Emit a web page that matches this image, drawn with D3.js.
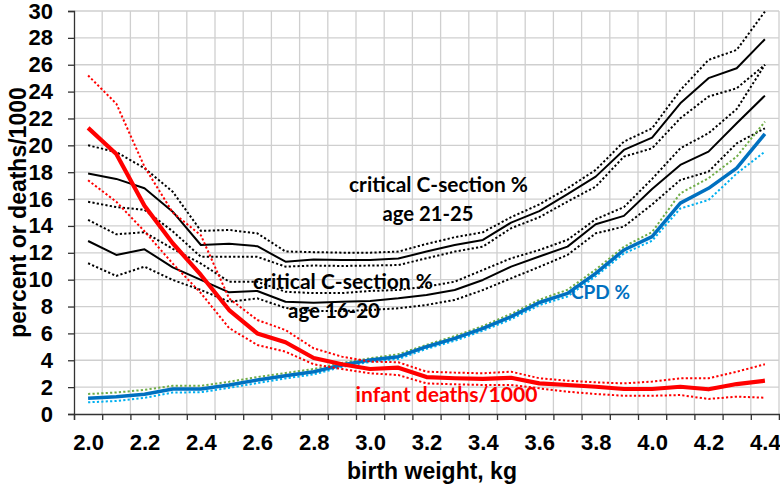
<!DOCTYPE html>
<html><head><meta charset="utf-8">
<script src="https://cdn.jsdelivr.net/npm/d3@7"></script>
<style>body{margin:0;background:#fff}svg{display:block}</style>
</head><body><svg id="c" width="780" height="488"></svg>
<script>
const categories = [2.0,2.1,2.2,2.3,2.4,2.5,2.6,2.7,2.8,2.9,3.0,3.1,3.2,3.3,3.4,3.5,3.6,3.7,3.8,3.9,4.0,4.1,4.2,4.3,4.4];
const xTickLabels = ["2.0","2.2","2.4","2.6","2.8","3.0","3.2","3.4","3.6","3.8","4.0","4.2","4.4"];
const yTicks = [0,2,4,6,8,10,12,14,16,18,20,22,24,26,28,30];

const cs2125 =    [17.9,17.5,16.8,15.06,12.58,12.68,12.49,11.34,11.5,11.47,11.47,11.57,12.09,12.58,12.96,14.25,15.1,16.36,17.67,19.66,20.58,23.13,25.0,25.74,27.9];
const cs2125Hi =  [20.0,19.5,18.3,16.55,13.63,13.7,13.45,12.1,12.05,12.01,12.01,12.09,12.66,13.16,13.53,14.65,15.6,16.8,18.17,20.28,21.27,24.1,26.36,27.1,29.96];
const cs2125Lo =  [15.8,15.4,15.2,13.6,11.7,11.7,11.7,10.97,11.05,11.02,11.05,11.09,11.59,12.09,12.46,13.83,14.65,15.81,16.93,19.16,19.78,22.01,23.63,24.25,25.99];

const cs1620 =    [12.88,11.84,12.26,10.92,9.98,9.06,9.16,8.36,8.29,8.36,8.41,8.61,8.86,9.23,9.98,10.97,11.72,12.46,14.12,14.75,16.75,18.54,19.53,21.64,23.7];
const cs1620Hi =  [14.45,13.38,13.53,12.3,11.2,9.85,9.85,9.1,9.0,9.0,9.16,9.23,9.48,9.85,10.72,11.59,12.21,12.96,14.5,15.4,17.5,19.78,20.9,22.7,26.0];
const cs1620Lo =  [11.22,10.28,10.97,9.98,9.23,8.36,8.61,7.9,7.67,7.67,7.74,7.87,8.12,8.49,9.23,10.1,10.95,11.84,13.45,13.95,15.6,17.42,18.04,20.15,21.27];

const infant =    [21.3,19.36,15.5,12.71,10.35,7.74,6.0,5.34,4.17,3.7,3.35,3.45,2.75,2.66,2.61,2.7,2.28,2.16,2.03,1.86,1.86,2.03,1.84,2.23,2.48];
const infantHi =  [25.2,23.1,18.4,15.0,13.3,8.6,7.0,6.25,4.89,4.27,3.9,3.85,3.15,3.08,3.03,3.15,2.66,2.48,2.36,2.28,2.41,2.66,2.66,3.15,3.7];
const infantLo =  [17.4,15.8,13.6,11.2,9.0,6.4,5.14,4.64,3.7,3.35,3.03,2.9,2.28,2.21,2.16,2.16,1.91,1.66,1.49,1.36,1.36,1.41,1.12,1.29,1.21];

const cpd =       [1.17,1.29,1.47,1.86,1.86,2.16,2.53,2.85,3.15,3.65,4.02,4.27,5.01,5.63,6.38,7.25,8.3,8.98,10.47,12.21,13.2,15.7,16.8,18.3,20.85];
const cpdHi =     [1.49,1.6,1.8,2.1,2.1,2.4,2.75,3.05,3.35,3.8,4.15,4.45,5.15,5.8,6.55,7.45,8.5,9.25,10.75,12.45,13.55,16.43,17.55,19.16,21.76];
const cpdLo =     [0.87,0.97,1.2,1.6,1.62,1.95,2.3,2.65,2.95,3.5,3.88,4.1,4.85,5.45,6.2,7.05,8.1,8.75,10.25,11.95,12.9,15.3,15.93,17.9,19.53];

const svg = d3.select("#c");
const L = 74, R = 779, T = 11, B = 414;
const x = d3.scaleLinear().domain([1.95, 4.45]).range([L, R]);
const y = d3.scaleLinear().domain([0, 30]).range([B, T]);
const boundaries = d3.range(categories.length + 1).map(i => 1.95 + 0.1 * i);
const font = "Liberation Sans, Arial, sans-serif";

// grid
const g = svg.append("g");
g.selectAll("line.v").data(boundaries.slice(1)).join("line")
  .attr("x1", d => x(d)).attr("x2", d => x(d)).attr("y1", T).attr("y2", B)
  .attr("stroke", "#cfcfcf").attr("stroke-width", 1.3);
g.selectAll("line.h").data(yTicks.slice(1)).join("line")
  .attr("x1", L).attr("x2", R).attr("y1", d => y(d)).attr("y2", d => y(d))
  .attr("stroke", "#cfcfcf").attr("stroke-width", 1.3);

// axes
const yAxis = svg.append("g").attr("transform", `translate(${L},0)`)
  .call(d3.axisLeft(y).tickValues(yTicks).tickSize(6).tickPadding(15).tickFormat(d3.format("d")));
yAxis.select(".domain").attr("stroke", "#333").attr("stroke-width", 1.3);
yAxis.selectAll(".tick line").attr("stroke", "#333").attr("stroke-width", 1.3);
yAxis.selectAll("text").attr("font-family", font)
  .attr("font-weight", "bold").attr("font-size", 22).attr("fill", "#000");

const xAxisT = svg.append("g").attr("transform", `translate(0,${B})`)
  .call(d3.axisBottom(x).tickValues(boundaries).tickSize(6).tickFormat(""));
xAxisT.select(".domain").attr("stroke", "#333").attr("stroke-width", 1.3);
xAxisT.selectAll(".tick line").attr("stroke", "#333").attr("stroke-width", 1.3);

const xAxisL = svg.append("g").attr("transform", `translate(0,${B})`)
  .call(d3.axisBottom(x).tickValues(xTickLabels.map(Number)).tickSize(0).tickPadding(20)
    .tickFormat((d,i) => xTickLabels[i]));
xAxisL.select(".domain").remove();
xAxisL.selectAll("text").attr("font-family", font)
  .attr("font-weight", "bold").attr("font-size", 22).attr("fill", "#000");

// titles
svg.append("text").attr("x", 432).attr("y", 479).attr("text-anchor", "middle")
  .attr("font-family", font).attr("font-weight", "bold")
  .attr("font-size", 23).text("birth weight, kg");
svg.append("text").attr("transform", "translate(26,212.5) rotate(-90)").attr("text-anchor", "middle")
  .attr("font-family", font).attr("font-weight", "bold")
  .attr("font-size", 23).text("percent or deaths/1000");

// lines
const line = d3.line().x((d,i) => x(categories[i])).y(d => y(d));
function draw(data, color, width, dash) {
  svg.append("path").datum(data).attr("d", line).attr("fill", "none")
    .attr("stroke", color).attr("stroke-width", width)
    .attr("stroke-dasharray", dash || null).attr("stroke-linejoin", "round");
}
const dot = "2.2,2.2";
draw(cs2125Hi, "#000", 2, dot);
draw(cs2125Lo, "#000", 2, dot);
draw(cs1620Hi, "#000", 2, dot);
draw(cs1620Lo, "#000", 2, dot);
draw(cs2125, "#000", 2);
draw(cs1620, "#000", 2);
draw(cpdHi, "#70ad47", 2, dot);
draw(cpdLo, "#00b0f0", 2, dot);
draw(cpd, "#0070c0", 3.5);
draw(infantHi, "#ff0000", 2, dot);
draw(infantLo, "#ff0000", 2, dot);
draw(infant, "#ff0000", 4.2);

// annotations
const af = "Lato, 'Open Sans', sans-serif";
function ann(txt, cx, base, color, w) {
  const t = svg.append("text").attr("x", cx).attr("y", base).attr("text-anchor", "middle")
    .attr("font-family", af).attr("font-weight", "bold").attr("font-size", 22)
    .attr("fill", color).text(txt);
  const len = t.node().getComputedTextLength();
  t.attr("font-size", 22 * w / len);
}
ann("critical C-section %", 438.5, 192, "#000", 179);
ann("age 21-25", 428, 220.5, "#000", 91);
ann("critical C-section %", 343, 289, "#000", 180);
ann("age 16-20", 334, 318, "#000", 92);
ann("CPD %", 600.5, 299, "#0070c0", 59);
ann("infant deaths/1000", 446.5, 402, "#ff0000", 182);
</script></body></html>
